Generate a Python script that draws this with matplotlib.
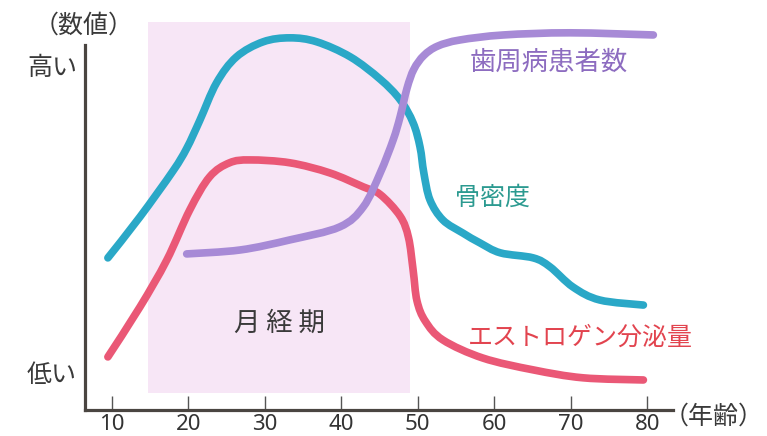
import numpy as np
import matplotlib
matplotlib.use("Agg")
import matplotlib.pyplot as plt
from matplotlib.path import Path
from matplotlib.patches import PathPatch

plt.rcParams['font.family'] = ['Noto Sans CJK JP', 'DejaVu Sans']

# ---- data (age, relative level) ----
bone_age = [9.5, 13.7, 18.0, 19.8, 21.5, 23.7, 26.3, 29.8, 33.3, 36.8, 41.2, 45.1, 47.7, 49.4,
            50.3, 50.8, 51.6, 53.3, 55.9, 58.1, 60.8, 65.1, 67.3, 70.3, 73.8, 79.5]
bone_val = [41.4, 52.8, 65.5, 71.8, 79.5, 90.0, 97.2, 101.4, 102.5, 101.4, 97.2, 91.0, 85.3, 78.9,
            72.2, 65.0, 57.5, 51.9, 48.3, 45.6, 42.8, 41.4, 38.9, 33.3, 29.7, 28.3]

estro_age = [9.5, 13.7, 17.2, 20.2, 22.8, 25.4, 28.1, 33.3, 38.5, 42.9, 45.1, 47.7, 48.8, 49.4,
             49.9, 51.0, 53.3, 58.5, 65.1, 71.6, 79.5]
estro_val = [13.9, 27.8, 40.8, 54.7, 63.9, 67.8, 68.6, 67.8, 65.0, 61.1, 59.0, 53.0, 47.0, 38.0,
             29.5, 23.8, 18.6, 13.6, 10.3, 8.1, 7.5]

perio_age = [19.8, 26.8, 33.3, 39.8, 42.9, 45.1, 46.8, 47.7, 48.6, 49.5, 50.8, 52.6, 55.5, 61.2, 69.9, 80.8]
perio_val = [42.5, 43.6, 46.4, 50.0, 55.6, 65.0, 74.2, 80.6, 88.5, 93.8, 97.6, 100.2, 101.9, 103.3, 103.9, 103.3]

menses_span = (14.75, 49.0)
xticks = [10, 20, 30, 40, 50, 60, 70, 80]

label_bone = "骨密度"
label_estro = "エストロゲン分泌量"
label_perio = "歯周病患者数"
label_menses = "月 経 期"


def smooth_path(xs, ys):
    """Catmull-Rom through the points as cubic Bezier segments."""
    pts = np.column_stack([xs, ys]).astype(float)
    n = len(pts)
    verts = [pts[0]]
    codes = [Path.MOVETO]
    for i in range(n - 1):
        p0 = pts[i - 1] if i > 0 else pts[i]
        p1 = pts[i]
        p2 = pts[i + 1]
        p3 = pts[i + 2] if i + 2 < n else pts[i + 1]
        c1 = p1 + (p2 - p0) / 6.0
        c2 = p2 - (p3 - p1) / 6.0
        verts += [c1, c2, p2]
        codes += [Path.CURVE4] * 3
    return Path(verts, codes)


W, H = 767, 436
fig = plt.figure(figsize=(W / 100, H / 100), dpi=100)
ax = fig.add_axes([85 / W, (H - 409.5) / H, (672.7 - 85) / W, (409.5 - 22) / H])
ax.set_xlim(6.51, 83.33)
ax.set_ylim(-0.7, 106.9)

ax.axvspan(menses_span[0], menses_span[1], ymin=0.043, ymax=1.0,
           color='#f7e6f6', lw=0, zorder=0)

for xs, ys, col in [(bone_age, bone_val, '#2aa8c7'),
                    (estro_age, estro_val, '#ea5876'),
                    (perio_age, perio_val, '#a78ad6')]:
    p = PathPatch(smooth_path(xs, ys), fill=False, edgecolor=col, lw=5.5,
                  capstyle='round', joinstyle='round', zorder=3)
    p.set_clip_on(False)
    ax.add_patch(p)

spine_col = '#4a4541'
for s in ['top', 'right']:
    ax.spines[s].set_visible(False)
ax.spines['left'].set_color(spine_col)
ax.spines['bottom'].set_color(spine_col)
ax.spines['left'].set_linewidth(2.3)
ax.spines['bottom'].set_linewidth(2.3)
ax.spines['left'].set_bounds(-0.7, 100.6)

ax.set_yticks([])
ax.set_xticks(xticks)
ax.set_xticklabels([str(t) for t in xticks])
ax.tick_params(axis='x', direction='in', length=10, width=1.0, color='#555555',
               pad=3, labelsize=16, labelcolor='#333333')
for lab in ax.get_xticklabels():
    lab.set_family(['Noto Sans', 'DejaVu Sans'])

# curve labels
ax.text(56.8, 95.8, label_perio, color='#8d6cc0', fontsize=19, ha='left', va='center', zorder=5)
ax.text(54.9, 58.1, label_bone, color='#2b9a90', fontsize=18, ha='left', va='center', zorder=5)
ax.text(56.6, 19.2, label_estro, color='#e2444f', fontsize=18, ha='left', va='center', zorder=5)
ax.text(31.9, 23.3, label_menses, color='#3a3a3a', fontsize=19, ha='center', va='center', zorder=5)

# outside labels (figure pixels)
def ftext(px, py, s, **kw):
    fig.text(px / W, (H - py) / H, s, **kw)

ftext(52, 68, "高い", fontsize=18, color='#3a3a3a', ha='center', va='center')
ftext(52, 375, "低い", fontsize=18, color='#3a3a3a', ha='center', va='center')
ftext(34, 26, "（数値）", fontsize=18, color='#3a3a3a', ha='left', va='center')
ftext(664, 417, "（年齢）", fontsize=18, color='#3a3a3a', ha='left', va='center')

fig.savefig('out.png', dpi=100, facecolor='white')
